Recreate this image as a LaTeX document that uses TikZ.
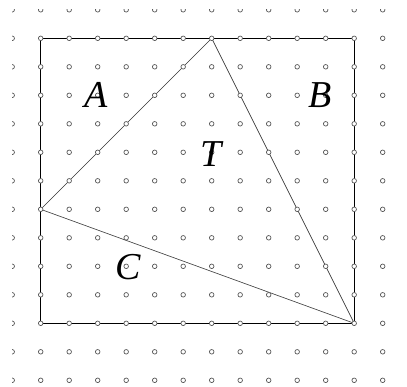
\documentclass[tikz,border=0pt]{standalone}
\usepackage{fontspec}
\setmainfont{Liberation Serif}[ItalicFont={Liberation Serif Italic}]
\newfontfamily\lblfont{Liberation Serif Italic}
\begin{document}
\begin{tikzpicture}[x=28.5pt,y=-28.5pt,
  dot/.style={draw=black!65,fill=white,line width=0.7pt},
  frame/.style={draw=black,line width=0.8pt},
  tri/.style={draw=black!80,line width=0.6pt},
  lbl/.style={inner sep=0pt,font=\lblfont\fontsize{38}{38}\selectfont}]
\useasboundingbox (-1.428,-1.344) rectangle (12.853,12.235);
\coordinate (P) at (6,0);
\coordinate (Q) at (0,6);
\coordinate (R) at (11,10);
\draw[frame] (0,0) rectangle (11,10);
\draw[tri] (P) -- (Q) -- (R) -- cycle;
\begin{scope}
\clip (-1,-1) rectangle (12.853,12.235);
\foreach \i in {-1,...,12}
  \foreach \j in {-1,...,12}
    \draw[dot] (\i,\j) circle[radius=2.3pt];
\end{scope}
\node[lbl] (A) at (1.96,1.99) {A};
\node[lbl] (B) at (9.80,1.99) {B};
\node[lbl] (T) at (5.98,4.06) {T};
\node[lbl] (C) at (3.08,8.02) {C};
\end{tikzpicture}
\end{document}
